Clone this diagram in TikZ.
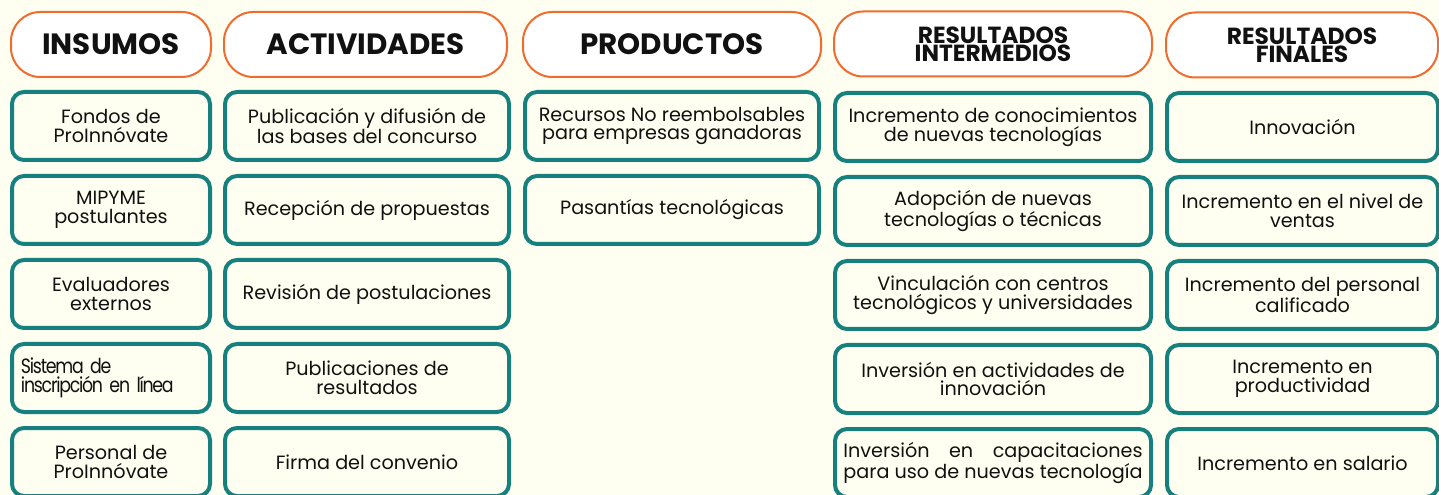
\documentclass[tikz,border=0pt]{standalone}
\usepackage{fontspec}
\setmainfont{Poppins}
\newfontfamily\condfont{Poppins}[LetterSpace=-6,FakeStretch=0.84,WordSpace=0.4]
\definecolor{creamc}{RGB}{254,255,240}
\definecolor{tealc}{RGB}{22,128,127}
\definecolor{orangec}{RGB}{240,108,46}
\definecolor{inkc}{RGB}{17,17,17}
\newlength\capw
\begin{document}
\begin{tikzpicture}[x=0.75pt,y=-0.75pt,
  hdr/.style={draw=orangec, line width=1.5pt, fill=white, rounded corners=22pt,
    align=center, inner sep=0pt, minimum height=48.75pt, text=inkc,
    font=\bfseries\fontsize{22}{22}\selectfont},
  hdrtwo/.style={hdr, font=\bfseries\fontsize{17.5}{13.8}\selectfont},
  tb/.style={draw=tealc, line width=3pt, fill=creamc, rounded corners=9pt,
    align=center, inner sep=0pt, minimum height=51pt, text=inkc,
    font=\fontsize{14.4}{14.2}\selectfont},
  c1/.style={tb, minimum width=148.5pt},
  c2/.style={tb, minimum width=213pt},
  c3/.style={tb, minimum width=220.5pt},
  c4/.style={tb, minimum width=237pt},
  c5/.style={tb, minimum width=203.25pt}]
\path[fill=creamc] (0,0) rectangle (1439,495);
\useasboundingbox (0,0) rectangle (1439,495);
\clip (0,0) rectangle (1439,495);
% headers
\node[hdr, minimum width=150pt] (h1) at (111,44.5) {INSUMOS};
\node[hdr, minimum width=212.25pt] (h2) at (365.5,44.5) {ACTIVIDADES};
\node[hdr, minimum width=223.5pt] (h3) at (672,44.5) {PRODUCTOS};
\node[hdrtwo, minimum width=238.5pt] (h4) at (993,44) {RESULTADOS\\INTERMEDIOS};
\node[hdrtwo, minimum width=204pt] (h5) at (1302,45) {RESULTADOS\\FINALES};
% column 1
\node[c1] (a1) at (111,126) {Fondos de\\ProInnóvate};
\node[c1] (a2) at (111,210) {MIPYME\\postulantes};
\node[c1] (a3) at (111,294) {Evaluadores\\externos};
\node[c1, align=left, text width=135pt] (a4) at (111,378) {\condfont\fontsize{15.5}{14.2}\selectfont Sistema de\\inscripción en línea};
\node[c1] (a5) at (111,462) {Personal de\\ProInnóvate};
% column 2
\node[c2] (b1) at (367,126) {Publicación y difusión de\\las bases del concurso};
\node[c2] (b2) at (367,210) {Recepción de propuestas};
\node[c2] (b3) at (367,294) {Revisión de postulaciones};
\node[c2] (b4) at (367,378) {Publicaciones de\\resultados};
\node[c2] (b5) at (367,462) {Firma del convenio};
% column 3
\node[c3] (p1) at (672,126) {Recursos No reembolsables\\para empresas ganadoras};
\node[c3] (p2) at (672,210) {Pasantías tecnológicas};
% column 4
\node[c4] (m1) at (993,127) {Incremento de conocimientos\\de nuevas tecnologías};
\node[c4] (m2) at (993,211) {Adopción de nuevas\\tecnologías o técnicas};
\node[c4] (m3) at (993,295) {Vinculación con centros\\tecnológicos y universidades};
\node[c4] (m4) at (993,379) {Inversión en actividades de\\innovación};
\node[c4] (m5) at (993,463) {\settowidth\capw{para uso de nuevas tecnología}\makebox[\capw][s]{Inversión en capacitaciones}\\para uso de nuevas tecnología};
% column 5
\node[c5] (f1) at (1302.5,127) {Innovación};
\node[c5] (f2) at (1302.5,211) {Incremento en el nivel de\\ventas};
\node[c5] (f3) at (1302.5,295) {Incremento del personal\\calificado};
\node[c5] (f4) at (1302.5,379) {Incremento en\\productividad};
\node[c5] (f5) at (1302.5,463) {Incremento en salario};
\end{tikzpicture}
\end{document}
